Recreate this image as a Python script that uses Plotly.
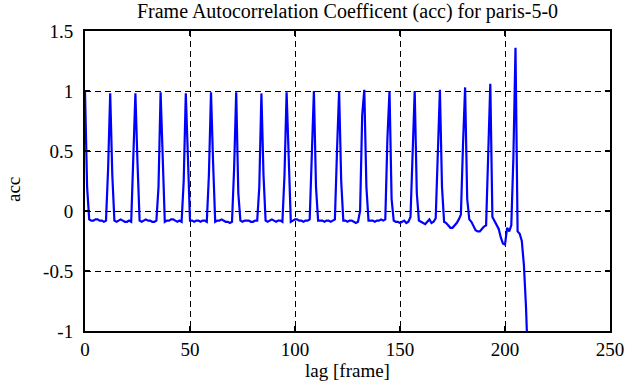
import plotly.graph_objects as go

lags = list(range(0, 212))
acc = [
    1.00, 0.20, -0.07, -0.08, -0.08, -0.07, -0.07, -0.08, -0.08, -0.09,   # 0-9
    -0.08, 0.35, 0.98, 0.30, -0.08, -0.09, -0.08, -0.07, -0.08, -0.09,   # 10-19
    -0.09, -0.08, -0.09, 0.45, 0.98, 0.40, -0.08, -0.09, -0.08, -0.07,   # 20-29
    -0.08, -0.08, -0.09, -0.09, -0.08, 0.20, 0.99, 0.35, -0.09, -0.08,   # 30-39
    -0.08, -0.07, -0.07, -0.08, -0.09, -0.08, -0.09, 0.25, 0.98, 0.45,   # 40-49
    -0.08, -0.08, -0.09, -0.08, -0.08, -0.09, -0.08, -0.08, -0.09, 0.30, # 50-59
    0.99, 0.40, -0.09, -0.08, -0.08, -0.07, -0.08, -0.09, -0.09, -0.10,  # 60-69
    -0.09, 0.35, 0.99, 0.15, -0.08, -0.09, -0.08, -0.08, -0.08, -0.09,   # 70-79
    -0.09, -0.08, -0.08, 0.20, 0.98, 0.30, -0.08, -0.09, -0.08, -0.07,   # 80-89
    -0.08, -0.09, -0.08, -0.08, -0.09, 0.30, 0.99, 0.35, -0.09, -0.08,   # 90-99
    -0.07, -0.07, -0.08, -0.08, -0.09, -0.08, -0.08, -0.07, 0.45, 1.00,  # 100-109
    0.20, -0.08, -0.08, -0.08, -0.09, -0.08, -0.08, -0.09, -0.08, -0.07, # 110-119
    0.50, 1.00, 0.25, -0.08, -0.08, -0.09, -0.08, -0.08, -0.09, -0.10,   # 120-129
    -0.09, 0.00, 0.80, 1.01, 0.20, -0.08, -0.08, -0.08, -0.09, -0.08,    # 130-139
    -0.08, -0.07, -0.08, -0.07, 0.60, 1.00, 0.10, -0.08, -0.09, -0.09,   # 140-149
    -0.10, -0.09, -0.08, -0.10, -0.09, -0.05, 0.55, 1.00, 0.15, -0.08,   # 150-159
    -0.09, -0.10, -0.11, -0.09, -0.07, -0.10, -0.09, -0.06, 0.50, 1.01,  # 160-169
    0.20, -0.09, -0.10, -0.12, -0.14, -0.14, -0.12, -0.10, -0.07, -0.03, # 170-179
    0.55, 1.03, 0.10, -0.07, -0.09, -0.13, -0.16, -0.17, -0.17, -0.15,   # 180-189
    -0.13, -0.12, 0.45, 1.06, -0.05, -0.08, -0.11, -0.15, -0.22, -0.27,  # 190-199
    -0.28, -0.14, -0.17, -0.12, 0.45, 1.36, -0.17, -0.19, -0.25, -0.45,  # 200-209
    -0.80, -1.30,                                                        # 210-211
]

x_ticks = [0, 50, 100, 150, 200, 250]
y_ticks = [-1, -0.5, 0, 0.5, 1, 1.5]
y_tick_labels = ["-1", "-0.5", "0", "0.5", "1", "1.5"]

FONT = "Liberation Serif"
FS = 19

fig = go.Figure()
fig.add_trace(go.Scatter(
    x=lags, y=acc, mode="lines",
    line=dict(color="#0000ff", width=2.2),
    showlegend=False,
))

axis_common = dict(
    showline=True, linecolor="black", linewidth=2, mirror="ticks",
    ticks="inside", ticklen=5, tickwidth=1.5, tickcolor="black",
    showgrid=True, gridcolor="black", gridwidth=1, griddash="6px,4px",
    zeroline=False,
    tickfont=dict(family=FONT, size=FS, color="black"),
)

fig.update_layout(
    width=629, height=387,
    margin=dict(l=85, r=19, t=31, b=56),
    paper_bgcolor="white", plot_bgcolor="white",
    font=dict(family=FONT, size=FS, color="black"),
    title=dict(
        text="Frame Autocorrelation Coefficent (acc) for paris-5-0",
        x=0.5, xref="paper", y=1 - 11 / 387, yref="container",
        xanchor="center", yanchor="middle",
        font=dict(family=FONT, size=20, color="black"),
    ),
    xaxis=dict(
        range=[0, 250], tickvals=x_ticks, ticktext=[str(v) for v in x_ticks],
        title=dict(text="lag [frame]", standoff=4,
                   font=dict(family=FONT, size=FS, color="black")),
        automargin=False, ticklabelstandoff=0,
        **axis_common,
    ),
    yaxis=dict(
        range=[-1, 1.5], tickvals=y_ticks, ticktext=y_tick_labels,
        automargin=False, ticklabelstandoff=6,
        **axis_common,
    ),
    annotations=[dict(
        text="acc", textangle=-90, showarrow=False,
        xref="paper", yref="paper",
        x=(13 - 85) / 525, y=(331 - 190) / 300,
        xanchor="center", yanchor="middle",
        font=dict(family=FONT, size=FS, color="black"),
    )],
)

fig.write_html(
    "out.html",
    config={"displayModeBar": False},
    post_script="document.body.style.margin='0px';",
)
